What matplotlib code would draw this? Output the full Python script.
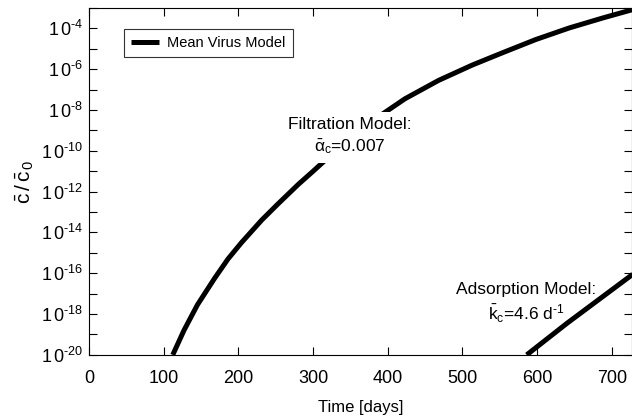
import matplotlib
matplotlib.use("Agg")
import matplotlib.pyplot as plt
from matplotlib.ticker import NullFormatter, FixedLocator, FuncFormatter
import numpy as np

plt.rcParams['font.family'] = ['Liberation Sans', 'DejaVu Sans']
plt.rcParams['mathtext.fontset'] = 'custom'
plt.rcParams['mathtext.rm'] = 'Liberation Sans'
plt.rcParams['mathtext.it'] = 'Liberation Sans'

# filtration model curve (days, log10 c/c0)
filt_days = [112, 127, 145, 168, 186, 204, 231, 253, 280, 300, 330, 360, 392,
             423, 468, 513, 554, 598, 643, 688, 727]
filt_log = [-20.0, -18.8, -17.55, -16.25, -15.3, -14.5, -13.4, -12.6, -11.65, -11.0,
            -10.0, -9.1, -8.22, -7.45, -6.55, -5.80, -5.19, -4.55, -3.98, -3.49, -3.09]

# adsorption model curve
ads_days = [586, 640, 728]
ads_log = [-20.0, -18.45, -16.05]

filt_c = 10.0 ** np.array(filt_log)
ads_c = 10.0 ** np.array(ads_log)

fig = plt.figure(figsize=(6.32, 4.18), dpi=100)
ax = fig.add_axes([0.141, 0.151, 0.859, 0.83])

ax.plot(filt_days, filt_c, color='black', lw=3.6, label='Mean Virus Model',
        solid_capstyle='butt', solid_joinstyle='round')
ax.plot(ads_days, ads_c, color='black', lw=3.6, solid_capstyle='butt')

ax.set_yscale('log')
ax.set_xlim(0, 727)
ax.set_ylim(1e-20, 1e-3)

ax.xaxis.set_major_locator(FixedLocator([0, 100, 200, 300, 400, 500, 600, 700]))
ax.yaxis.set_major_locator(FixedLocator([10.0 ** e for e in range(-20, -3, 2)]))
ax.yaxis.set_minor_locator(FixedLocator([10.0 ** e for e in range(-19, -2, 2)]))
ax.yaxis.set_minor_formatter(NullFormatter())


def ylab(v, pos):
    n = int(round(np.log10(v)))
    return r'$1\,0^{\text{-}%d}$' % abs(n)


ax.yaxis.set_major_formatter(FuncFormatter(ylab))

ax.tick_params(which='both', direction='in', top=True, right=True, labelsize=13, width=0.8, length=6)
ax.tick_params(axis='x', pad=11)
ax.tick_params(axis='y', pad=4)

ax.set_xlabel('Time [days]', fontsize=12, labelpad=9)
ax.set_ylabel(r'$\bar{c}\,/\,\bar{c}_{\,0}$', fontsize=15, labelpad=4)

ax.text(349, 10.0 ** -9.3, 'Filtration Model:\n' + r'$\bar{\alpha}_c$=0.007', fontsize=12.5,
        ha='center', va='center', linespacing=1.3,
        bbox=dict(facecolor='white', edgecolor='none', pad=5))
ax.text(585, 10.0 ** -16.8, 'Adsorption Model:', fontsize=12.5, ha='center', va='center')
ax.text(586, 10.0 ** -18.0, r'$\bar{k}_c$=4.6 d$^{\text{-}1}$', fontsize=12.5, ha='center', va='center')

leg = ax.legend(loc='upper left', bbox_to_anchor=(0.064, 0.94), fontsize=10.5, frameon=True,
                fancybox=False, edgecolor='black', handlelength=1.9, handletextpad=0.55,
                borderpad=0.5, borderaxespad=0)
leg.get_frame().set_linewidth(0.8)

for s in ax.spines.values():
    s.set_linewidth(0.8)

fig.savefig('out.png', dpi=100)
